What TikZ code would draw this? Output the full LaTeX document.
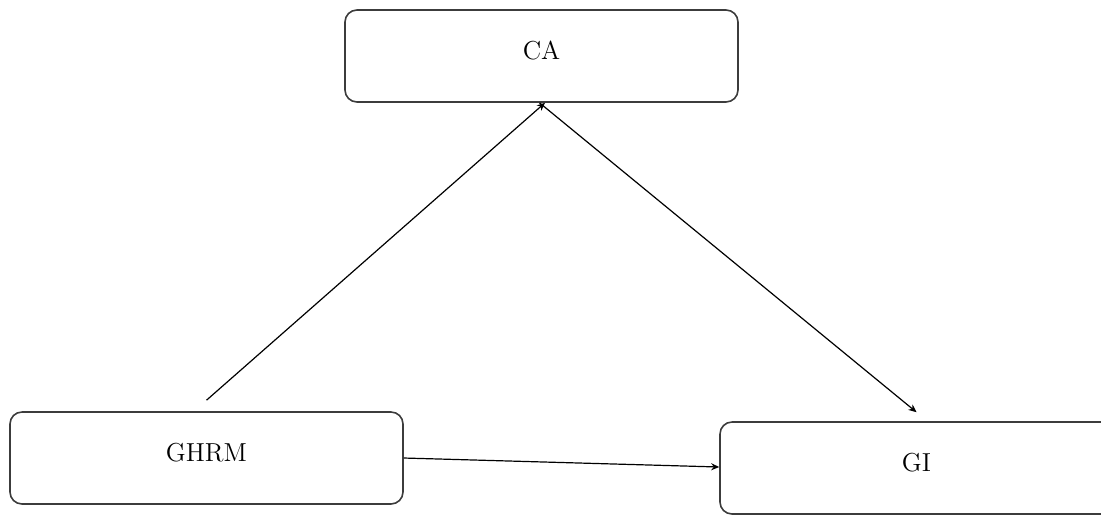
\documentclass[tikz,border=0pt]{standalone}
\usepackage{tikz}
\usetikzlibrary{positioning,arrows.meta,calc}
\definecolor{boxline}{RGB}{60,60,60}
\tikzset{
  box/.style={draw=boxline, rounded corners=6pt, line width=0.8pt, minimum width=196.5pt,
              minimum height=46pt, font=\fontsize{13}{15}\selectfont, text depth=6pt},
  link/.style={-{Stealth[length=4pt,width=3.5pt]}, line width=0.6pt, black}
}

\begin{document}
\begin{tikzpicture}[x=0.5pt, y=-0.5pt]
    \useasboundingbox (0,0) rectangle (1101,516);
    \node[box] (ca) at (541.5,56) {CA};
    \node[box] (ghrm) at (206.5,458) {GHRM};
    \node[box] (gi) at (916.5,468) {GI};
    \draw[link] ([yshift=5.5pt]ghrm.north) -- ([xshift=1.75pt]ca.south);
    \draw[link] ([xshift=-1pt]ca.south) -- ([yshift=4.5pt]gi.north);
    \draw[link] (ghrm.east) -- ([yshift=0.5pt]gi.west);
  \end{tikzpicture}
\end{document}
